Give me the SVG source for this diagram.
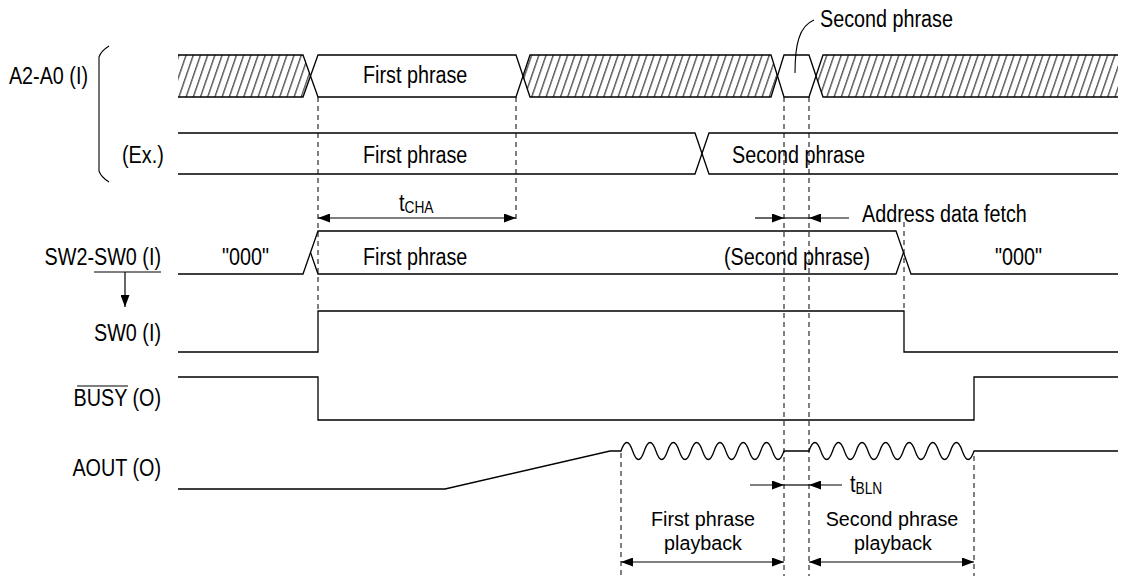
<svg xmlns="http://www.w3.org/2000/svg" width="1123" height="576" viewBox="0 0 1123 576">
<style>
.s{stroke:#000;stroke-width:1.3;fill:none}
.d{stroke:#000;stroke-width:1;stroke-dasharray:5 4;fill:none}
.t{font-family:"Liberation Sans",Arial,sans-serif;font-size:23px;fill:#000}
.p{font-size:21px}
.e{text-anchor:end}
.m{text-anchor:middle}
.sub{font-size:16px}
.a{stroke:#000;stroke-width:1.2;fill:none;marker-end:url(#ah)}
.aa{stroke:#000;stroke-width:1.2;fill:none;marker-start:url(#ah);marker-end:url(#ah)}
</style>
<defs>
<pattern id="hatch" patternUnits="userSpaceOnUse" width="7.2" height="20" patternTransform="skewX(-19)">
<line x1="3.5" y1="-1" x2="3.5" y2="21" stroke="#000" stroke-width="1"/>
</pattern>
<marker id="ah" markerUnits="userSpaceOnUse" markerWidth="12" markerHeight="9" refX="12" refY="4.5" orient="auto-start-reverse" viewBox="0 0 12 9">
<path d="M0,0 L12,4.5 L0,9 z" fill="#000"/>
</marker>
</defs>
<rect width="1123" height="576" fill="#fff"/>

<g id="connectors">
<line class="d" x1="318" y1="97" x2="318" y2="311"/>
<line class="d" x1="516" y1="97" x2="516" y2="222"/>
<line class="d" x1="784" y1="97" x2="784" y2="576"/>
<line class="d" x1="809" y1="97" x2="809" y2="576"/>
<line class="d" x1="904" y1="222" x2="904" y2="311"/>
<line class="d" x1="621" y1="453" x2="621" y2="576"/>
<line class="d" x1="974" y1="456" x2="974" y2="576"/>
<line class="aa" x1="318" y1="218" x2="516" y2="218"/>
<line class="a" x1="755" y1="218" x2="784" y2="218"/>
<line class="s" x1="784" y1="218" x2="809" y2="218" style="stroke-width:1.2"/>
<line class="a" x1="849" y1="218" x2="809" y2="218"/>
<line class="a" x1="750" y1="485" x2="784" y2="485"/>
<line class="s" x1="784" y1="485" x2="809" y2="485" style="stroke-width:1.2"/>
<line class="a" x1="842" y1="485" x2="809" y2="485"/>
<line class="aa" x1="621" y1="562" x2="784" y2="562"/>
<line class="aa" x1="809" y1="562" x2="974" y2="562"/>
<line class="a" x1="125" y1="272" x2="125" y2="307"/>
<path class="s" d="M795,73 C795,45 799,26 814,20" style="stroke-width:1.1"/>
</g>

<g id="a2a0">
<path d="M178,55 H303 L310.5,76 L303,97 H178 Z" fill="url(#hatch)"/>
<path d="M523,76 L530,55 H771 L777.5,76 L771,97 H530 Z" fill="url(#hatch)"/>
<path d="M816,76 L823,55 H1118 V97 H823 Z" fill="url(#hatch)"/>
<path class="s" d="M178,55 H303 L318,97 H516 L530,55 H771 L784,97 H809 L823,55 H1118"/>
<path class="s" d="M178,97 H303 L318,55 H516 L530,97 H771 L784,55 H809 L823,97 H1118"/>
<text class="t e" transform="translate(88,84) scale(.86,1)">A2-A0 (I)</text>
<text class="t" transform="translate(363,83) scale(.86,1)">First phrase</text>
<text class="t" transform="translate(820,27) scale(.86,1)">Second phrase</text>
<path class="s" d="M109,46 Q101,51 99,57 V171 Q101,177 109,182" style="stroke-width:1.1"/>
</g>

<g id="ex">
<path class="s" d="M178,133 H695 L709,174 H1118"/>
<path class="s" d="M178,174 H695 L709,133 H1118"/>
<text class="t" transform="translate(122,163) scale(.86,1)">(Ex.)</text>
<text class="t" transform="translate(363,163) scale(.86,1)">First phrase</text>
<text class="t" transform="translate(732,163) scale(.86,1)">Second phrase</text>
</g>

<g id="tcha">
<text class="t" transform="translate(399,211) scale(.86,1)">t<tspan class="sub" dy="2">CHA</tspan></text>
</g>

<g id="fetch">
<text class="t" transform="translate(862,222) scale(.86,1)">Address data fetch</text>
</g>

<g id="sw2sw0">
<path class="s" d="M178,274 H303 L318,231 H896 L911,274 H1118"/>
<path class="s" d="M310.5,252.5 L318,274 H896 L903.5,252.5"/>
<text class="t e" transform="translate(161,265) scale(.86,1)">SW2-SW0 (I)</text>
<line class="s" x1="94" y1="272" x2="161" y2="272" style="stroke-width:1.1"/>
<text class="t" transform="translate(222,265) scale(.86,1)">"000"</text>
<text class="t" transform="translate(363,265) scale(.86,1)">First phrase</text>
<text class="t" transform="translate(724,265) scale(.86,1)">(Second phrase)</text>
<text class="t" transform="translate(995,265) scale(.86,1)">"000"</text>
</g>

<g id="sw0">
<path class="s" d="M178,352 H318 V311 H904 V352 H1118"/>
<text class="t e" transform="translate(161,341) scale(.86,1)">SW0 (I)</text>
</g>

<g id="busy">
<path class="s" d="M178,377 H318 V420 H974 V377 H1118"/>
<text class="t e" transform="translate(161,406) scale(.86,1)">BUSY (O)</text>
<line class="s" x1="77" y1="386" x2="128" y2="386" style="stroke-width:1.1"/>
</g>

<g id="aout">
<path class="s" d="M178,489 H445 L610,451 H621 q5.82,-17 11.64,0 t11.64,0 t11.64,0 t11.64,0 t11.64,0 t11.64,0 t11.64,0 t11.64,0 t11.64,0 t11.64,0 t11.64,0 t11.64,0 t11.64,0 t11.64,0 H809 q5.9,-17 11.79,0 t11.79,0 t11.79,0 t11.79,0 t11.79,0 t11.79,0 t11.79,0 t11.79,0 t11.79,0 t11.79,0 t11.79,0 t11.79,0 t11.79,0 t11.79,0 H1118"/>
<text class="t e" transform="translate(161,476) scale(.86,1)">AOUT (O)</text>
</g>

<g id="tbln">
<text class="t" transform="translate(850,492) scale(.86,1)">t<tspan class="sub" dy="2">BLN</tspan></text>
</g>

<g id="playback1">
<text class="t p m" transform="translate(703,525.5) scale(.94,1)">First phrase</text>
<text class="t p m" transform="translate(703,549.5) scale(.94,1)">playback</text>
</g>

<g id="playback2">
<text class="t p m" transform="translate(892,525.5) scale(.94,1)">Second phrase</text>
<text class="t p m" transform="translate(893,549.5) scale(.94,1)">playback</text>
</g>
</svg>
